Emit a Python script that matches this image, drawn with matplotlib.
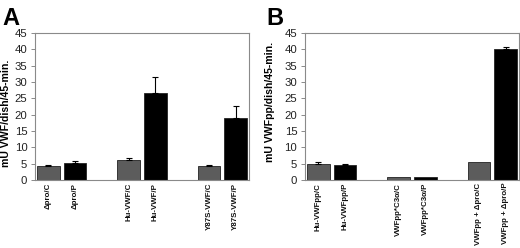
import matplotlib
matplotlib.use("Agg")
import matplotlib.pyplot as plt
import numpy as np

plt.rcParams['font.family'] = ['Liberation Sans', 'DejaVu Sans']

# panel A
labels_a = ["\u0394pro/C", "\u0394pro/P", "", "Hu-VWF/C", "Hu-VWF/P", "", "Y87S-VWF/C", "Y87S-VWF/P"]
values_a = [4.3, 5.2, 0, 6.2, 26.6, 0, 4.4, 19.0]
errors_a = [0.3, 0.5, 0, 0.5, 4.8, 0, 0.3, 3.6]

# panel B
labels_b = ["Hu-VWFpp/C", "Hu-VWFpp/P", "", "VWFpp*C3\u03b1/C", "VWFpp*C3\u03b1/P", "",
            "VWFpp + \u0394pro/C", "VWFpp + \u0394pro/P"]
values_b = [5.0, 4.6, 0, 0.8, 0.8, 0, 5.5, 40.2]
errors_b = [0.6, 0.4, 0, 0, 0, 0, 0, 0.6]

colors = ["#5c5c5c", "#000000", "#5c5c5c", "#5c5c5c", "#000000", "#5c5c5c", "#5c5c5c", "#000000"]

fig = plt.figure(figsize=(5.2, 2.48), dpi=100)


def draw(ax, labels, values, errors, ylabel, label_x, label_y):
    x = np.arange(len(labels))
    ax.bar(x, values, width=0.84, color=colors, edgecolor="#222222", linewidth=0.6, zorder=2)
    for xi, v, e in zip(x, values, errors):
        if e > 0:
            ax.errorbar(xi, v, yerr=[[0], [e]], fmt="none", ecolor="black",
                        elinewidth=0.8, capsize=2.5, capthick=0.8, zorder=3)
    ax.set_xlim(-0.5, len(labels) - 0.5)
    ax.set_ylim(0, 45)
    ax.set_yticks(range(0, 46, 5))
    ax.set_xticks(x)
    ax.set_xticklabels(labels, rotation=90, fontsize=5.7, fontweight="bold", color="#111111")
    ax.tick_params(axis="x", length=0, pad=2)
    ax.tick_params(axis="y", length=3, width=0.7, color="#8a8a8a", pad=2.5,
                   labelsize=8.2, labelcolor="#222222")
    for s in ax.spines.values():
        s.set_color("#8a8a8a")
        s.set_linewidth(0.8)
    ax.set_ylabel(ylabel, fontsize=7.6, fontweight="bold")
    ax.yaxis.set_label_coords(label_x, label_y)


ax_a = fig.add_axes([0.0673, 0.274, 0.4115, 0.593])
draw(ax_a, labels_a, values_a, errors_a, "mU VWF/dish/45-min.", -0.113, 0.455)

ax_b = fig.add_axes([0.5865, 0.274, 0.4115, 0.593])
draw(ax_b, labels_b, values_b, errors_b, "mU VWFpp/dish/45-min.", -0.14, 0.53)

fig.text(0.004, 0.899, "A", fontsize=17, fontweight="bold", va="baseline", ha="left")
fig.text(0.513, 0.899, "B", fontsize=17, fontweight="bold", va="baseline", ha="left")

fig.savefig("out.png", dpi=100)
